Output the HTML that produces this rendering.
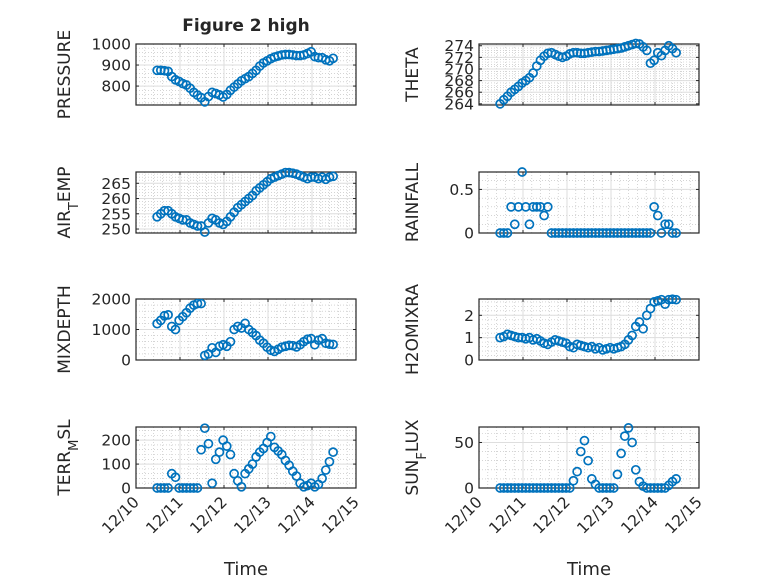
<!DOCTYPE html>
<html><head><meta charset="utf-8"><style>
body{margin:0;background:#fff}
svg text{font-family:"DejaVu Sans","Liberation Sans",sans-serif;fill:#262626}
</style></head><body>
<svg id="fig" width="778" height="583" xmlns="http://www.w3.org/2000/svg">
<rect width="778" height="583" fill="#fff"/>
<text x="246" y="31" text-anchor="middle" font-weight="bold" font-size="17">Figure 2 high</text>
<text x="246" y="575" text-anchor="middle" font-size="18">Time</text>
<text x="589" y="575" text-anchor="middle" font-size="18">Time</text>
</svg>
<script>
const xTickLabels = ["12/10","12/11","12/12","12/13","12/14","12/15"];
const t0 = 0.48, dt = 1/12;
const pressure = [875,875,873,870,845,830,822,812,805,790,770,757,745,725,750,770,765,758,748,760,780,795,810,825,835,845,860,875,895,910,920,930,938,943,948,950,950,948,945,945,948,955,963,940,935,935,925,920,932];
const theta = [264,264.7,265.3,266,266.5,267,267.6,268,268.5,269.3,270.5,271.5,272.2,272.7,272.8,272.5,272.2,272,272.2,272.6,272.8,272.8,272.7,272.7,272.8,272.9,273,273,273.1,273.2,273.3,273.4,273.5,273.6,273.8,274,274.2,274.4,274.3,273.8,273.2,271,271.5,272.8,272.3,273.2,274,273.5,272.8];
const airTemp = [254,255,256,256,255,254,253.5,253,253,252,251.5,251,251,249,252,253.5,253,252,251.5,252.5,254,255.5,257,258,259,260,261,262.5,263.5,264.5,265.5,266.5,267,267.5,268,268.5,268.5,268.3,268,267.5,267,266.5,267,267,266.5,267,266.3,267,267.3];
const rainfall = [0,0,0,0.3,0.1,0.3,0.7,0.3,0.1,0.3,0.3,0.3,0.2,0.3,0,0,0,0,0,0,0,0,0,0,0,0,0,0,0,0,0,0,0,0,0,0,0,0,0,0,0,0,0.3,0.2,0,0.1,0.1,0,0];
const mixDepth = [1190,1300,1450,1480,1100,1000,1300,1420,1550,1700,1800,1850,1850,150,200,400,250,450,500,450,600,1000,1100,1050,1200,1000,900,800,650,550,420,320,280,350,420,450,480,470,430,500,600,680,700,500,650,700,550,520,510];
const h2oMix = [1.0,1.05,1.15,1.1,1.05,1.0,1.0,0.95,1.0,0.9,0.95,0.85,0.75,0.7,0.8,0.9,0.85,0.8,0.75,0.6,0.55,0.7,0.65,0.6,0.55,0.6,0.5,0.55,0.45,0.5,0.55,0.5,0.55,0.6,0.7,0.9,1.1,1.5,1.7,1.4,2.0,2.3,2.6,2.65,2.7,2.5,2.7,2.72,2.7];
const terrMsl = [0,0,0,0,60,45,0,0,0,0,0,0,160,250,185,20,120,150,200,175,140,60,30,5,60,80,100,130,150,165,190,215,170,155,140,115,95,70,50,20,5,10,20,5,15,40,75,110,150];
const sunFlux = [0,0,0,0,0,0,0,0,0,0,0,0,0,0,0,0,0,0,0,0,8,18,40,52,30,10,4,0,0,0,0,0,15,38,57,66,50,20,7,2,0,0,0,0,0,0,3,7,10];

const svg = document.getElementById('fig');
const NS = 'http://www.w3.org/2000/svg';
function mk(tag, attrs, parent){const e=document.createElementNS(NS,tag);for(const k in attrs)e.setAttribute(k,attrs[k]);(parent||svg).appendChild(e);return e;}

const plots = [
 {name:'pressure', data:pressure, col:0,row:0, ymin:710,ymax:1000, ticks:[800,900,1000], label:['PRESSURE']},
 {name:'theta', data:theta, col:1,row:0, ymin:263.8,ymax:274.3, ticks:[264,266,268,270,272,274], label:['THETA']},
 {name:'air-temp', data:airTemp, col:0,row:1, ymin:248.7,ymax:268.7, ticks:[250,255,260,265], label:['AIR','T','EMP']},
 {name:'rainfall', data:rainfall, col:1,row:1, ymin:0,ymax:0.7, ticks:[0,0.5], label:['RAINFALL']},
 {name:'mixdepth', data:mixDepth, col:0,row:2, ymin:0,ymax:2000, ticks:[0,1000,2000], label:['MIXDEPTH']},
 {name:'h2omixra', data:h2oMix, col:1,row:2, ymin:0,ymax:2.73, ticks:[0,1,2], label:['H2OMIXRA']},
 {name:'terr-msl', data:terrMsl, col:0,row:3, ymin:0,ymax:255, ticks:[0,100,200], label:['TERR','M','SL']},
 {name:'sun-flux', data:sunFlux, col:1,row:3, ymin:0,ymax:67, ticks:[0,50], label:['SUN','F','LUX']}
];
const colX=[136,479], W=220, rowY=[44,172,299,427], H=61;

plots.forEach(p=>{
  const L=colX[p.col], T=rowY[p.row], B=T+H, R=L+W;
  const g=mk('g',{});
  
  
  const xs=d=>L+d/5*W;
  const ys=v=>B-(v-p.ymin)/(p.ymax-p.ymin)*H;
  for(let d=0;d<5;d+=0.2){ if(Math.abs(d-Math.round(d))<1e-6) continue;
    mk('line',{x1:xs(d),x2:xs(d),y1:T,y2:B,stroke:'#bbb','stroke-width':0.6,'stroke-dasharray':'1,2'},g);}
  const step=p.ticks.length>1?p.ticks[1]-p.ticks[0]:p.ymax;
  const ms=step/5;
  for(let v=p.ticks[0]-step; v<=p.ymax+1e-9; v+=ms){ if(v<p.ymin) continue;
    mk('line',{x1:L,x2:R,y1:ys(v),y2:ys(v),stroke:'#bbb','stroke-width':0.6,'stroke-dasharray':'1,2'},g);}
  for(let d=1;d<5;d++) mk('line',{x1:xs(d),x2:xs(d),y1:T,y2:B,stroke:'#dedede','stroke-width':1},g);
  p.ticks.forEach(v=>mk('line',{x1:L,x2:R,y1:ys(v),y2:ys(v),stroke:'#dedede','stroke-width':1},g));
  for(let d=0;d<=5;d++){mk('line',{x1:xs(d),x2:xs(d),y1:B,y2:B-3,stroke:'#262626'},g);mk('line',{x1:xs(d),x2:xs(d),y1:T,y2:T+3,stroke:'#262626'},g);}
  p.ticks.forEach(v=>{mk('line',{x1:L,x2:L+3,y1:ys(v),y2:ys(v),stroke:'#262626'},g);mk('line',{x1:R,x2:R-3,y1:ys(v),y2:ys(v),stroke:'#262626'},g);
    const t=mk('text',{x:L-5,y:ys(v)+5.5,'text-anchor':'end','font-size':15.5},g);t.textContent=String(v);
    
    });
  mk('rect',{x:L,y:T,width:W,height:H,fill:'none',stroke:'#262626','stroke-width':1.2},g);
  p.data.forEach((v,i)=>{
    const c=mk('circle',{cx:xs(t0+i*dt),cy:ys(v),r:4,fill:'none',stroke:'#0072BD','stroke-width':1.7},g);
    
    
  });
  const lx = L-(p.col===0?66:61), ly=T+H/2;
  const yl=mk('text',{x:lx,y:ly,'text-anchor':'middle','font-size':17,transform:`rotate(-90 ${lx} ${ly})`},g);
  
  
  const t1=mk('tspan',{},yl); t1.textContent=p.label[0];
  if(p.label.length>1){const t2=mk('tspan',{'baseline-shift':'sub','font-size':13},yl);t2.textContent=p.label[1];
    const t3=mk('tspan',{'baseline-shift':'0'},yl);t3.textContent=p.label[2];}
  if(p.row===3){
    xTickLabels.forEach((s,d)=>{const x=xs(d),y=B+15;
      const t=mk('text',{x:x+4,y:y,'text-anchor':'end','font-size':15.5,transform:`rotate(-45 ${x+4} ${y})`},g);t.textContent=s;
      
      });
  }
});
</script>
</body></html>
